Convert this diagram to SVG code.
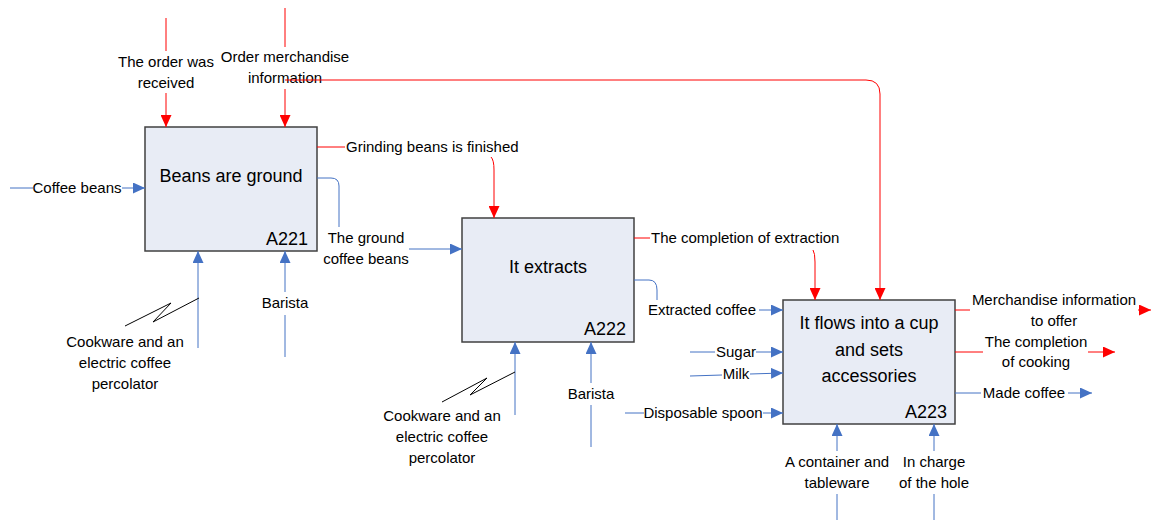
<svg xmlns="http://www.w3.org/2000/svg" width="1152" height="520" viewBox="0 0 1152 520">
  <style>
    .box { fill: #E8ECF5; stroke: #404040; stroke-width: 1.5; }
    .title { font-family: "Liberation Sans", Arial, sans-serif; font-size: 18px; fill: #000; text-anchor: middle; }
    .num { font-family: "Liberation Sans", Arial, sans-serif; font-size: 18px; fill: #000; text-anchor: end; }
    .lbl { font-family: "Liberation Sans", Arial, sans-serif; font-size: 15px; fill: #000; text-anchor: middle; }
    .lblL { font-family: "Liberation Sans", Arial, sans-serif; font-size: 15px; fill: #000; text-anchor: start; }
    .ctl { fill: none; stroke: #FF0000; stroke-width: 1; }
    .flow { fill: none; stroke: #4472C4; stroke-width: 1; }
    .leader { fill: none; stroke: #000; stroke-width: 1; }
  </style>
  <defs>
    <marker id="arrowRed" viewBox="0 0 12 11" refX="12" refY="5.5" markerWidth="12" markerHeight="11" markerUnits="userSpaceOnUse" orient="auto">
      <path d="M0,0 L12,5.5 L0,11 Z" fill="#FF0000"/>
    </marker>
    <marker id="arrowBlue" viewBox="0 0 12 11" refX="12" refY="5.5" markerWidth="12" markerHeight="11" markerUnits="userSpaceOnUse" orient="auto">
      <path d="M0,0 L12,5.5 L0,11 Z" fill="#4472C4"/>
    </marker>
  </defs>

  <rect width="1152" height="520" fill="#FFFFFF"/>

  <!-- activity boxes -->
  <g id="A221">
    <rect class="box" x="145" y="127" width="172" height="124"/>
    <text class="title" x="231" y="182">Beans are ground</text>
    <text class="num" x="308" y="245">A221</text>
  </g>
  <g id="A222">
    <rect class="box" x="462" y="218" width="172" height="124"/>
    <text class="title" x="548" y="273">It extracts</text>
    <text class="num" x="626" y="335">A222</text>
  </g>
  <g id="A223">
    <rect class="box" x="783" y="300" width="172" height="124"/>
    <text class="title" x="869" y="329">It flows into a cup</text>
    <text class="title" x="869" y="356">and sets</text>
    <text class="title" x="869" y="382">accessories</text>
    <text class="num" x="947" y="418">A223</text>
  </g>

  <!-- connectors -->
  <g id="connectors">
    <!-- controls (red) -->
    <path class="ctl" d="M166,18 V51"/>
    <path class="ctl" d="M166,93 V127" marker-end="url(#arrowRed)"/>
    <path class="ctl" d="M285,8 V47"/>
    <path class="ctl" d="M285,89 V127" marker-end="url(#arrowRed)"/>
    <path class="ctl" d="M317,147 H345"/>
    <path class="ctl" d="M491,157 Q494,160 494,170 V218" marker-end="url(#arrowRed)"/>
    <path class="ctl" d="M634,238 H650"/>
    <path class="ctl" d="M813,250 Q815,253 815,262 V300" marker-end="url(#arrowRed)"/>
    <path class="ctl" d="M955,310 H970"/>
    <path class="ctl" d="M1138,310 H1151" marker-end="url(#arrowRed)"/>
    <path class="ctl" d="M955,352 H983"/>
    <path class="ctl" d="M1088,352 H1115" marker-end="url(#arrowRed)"/>

    <!-- inputs, outputs and mechanisms (blue) -->
    <path class="flow" d="M10,188 H33"/>
    <path class="flow" d="M122,188 H145" marker-end="url(#arrowBlue)"/>
    <path class="flow" d="M317,178 H331 Q339,178 339,186 V227"/>
    <path class="flow" d="M409,249 H462" marker-end="url(#arrowBlue)"/>
    <path class="flow" d="M198,348 V251" marker-end="url(#arrowBlue)"/>
    <path class="flow" d="M285,357 V315"/>
    <path class="flow" d="M285,292 V251" marker-end="url(#arrowBlue)"/>
    <path class="flow" d="M634,280 H649 Q657,280 657,290 V300"/>
    <path class="flow" d="M759,310 H783" marker-end="url(#arrowBlue)"/>
    <path class="flow" d="M515,415 V342" marker-end="url(#arrowBlue)"/>
    <path class="flow" d="M591,447 V405"/>
    <path class="flow" d="M591,383 V342" marker-end="url(#arrowBlue)"/>
    <path class="flow" d="M690,352 H715"/>
    <path class="flow" d="M756,352 H783" marker-end="url(#arrowBlue)"/>
    <path class="flow" d="M690,376 L722,375"/>
    <path class="flow" d="M750,374 L783,373" marker-end="url(#arrowBlue)"/>
    <path class="flow" d="M625,413 H644"/>
    <path class="flow" d="M763,413 H783" marker-end="url(#arrowBlue)"/>
    <path class="flow" d="M955,393 H981"/>
    <path class="flow" d="M1068,393 H1092" marker-end="url(#arrowBlue)"/>
    <path class="flow" d="M837,520 V494"/>
    <path class="flow" d="M837,451 V424" marker-end="url(#arrowBlue)"/>
    <path class="flow" d="M934,520 V494"/>
    <path class="flow" d="M934,451 V424" marker-end="url(#arrowBlue)"/>

    <!-- label leaders -->
    <polyline class="leader" points="199,298 153,322 171,303 125,326"/>
    <polyline class="leader" points="515,372 470,395 487,378 442,402"/>
  </g>

  <!-- connector labels -->
  <g id="labels">
    <text class="lbl" x="166" y="67">The order was</text>
    <text class="lbl" x="166" y="88">received</text>
    <text class="lbl" x="285" y="62">Order merchandise</text>
    <text class="lbl" x="285" y="83">information</text>
    <text class="lbl" x="77" y="193">Coffee beans</text>
    <text class="lblL" x="346" y="152">Grinding beans is finished</text>
    <text class="lbl" x="366" y="243">The ground</text>
    <text class="lbl" x="366" y="264">coffee beans</text>
    <text class="lbl" x="125" y="347">Cookware and an</text>
    <text class="lbl" x="125" y="368">electric coffee</text>
    <text class="lbl" x="125" y="389">percolator</text>
    <text class="lbl" x="285" y="308">Barista</text>
    <text class="lblL" x="651" y="243">The completion of extraction</text>
    <text class="lbl" x="702" y="315">Extracted coffee</text>
    <text class="lbl" x="442" y="421">Cookware and an</text>
    <text class="lbl" x="442" y="442">electric coffee</text>
    <text class="lbl" x="442" y="463">percolator</text>
    <text class="lbl" x="591" y="399">Barista</text>
    <text class="lbl" x="736" y="357">Sugar</text>
    <text class="lbl" x="736" y="379">Milk</text>
    <text class="lbl" x="703" y="418">Disposable spoon</text>
    <text class="lbl" x="1054" y="305">Merchandise information</text>
    <text class="lbl" x="1054" y="326">to offer</text>
    <text class="lbl" x="1036" y="347">The completion</text>
    <text class="lbl" x="1036" y="367">of cooking</text>
    <text class="lbl" x="1024" y="398">Made coffee</text>
    <text class="lbl" x="837" y="467">A container and</text>
    <text class="lbl" x="837" y="488">tableware</text>
    <text class="lbl" x="934" y="467">In charge</text>
    <text class="lbl" x="934" y="488">of the hole</text>
  </g>

  <!-- shared control branch drawn over its label -->
  <g id="connector-branch">
    <path class="ctl" d="M285,80 H866 Q880,80 880,94 V300" marker-end="url(#arrowRed)"/>
  </g>
</svg>
